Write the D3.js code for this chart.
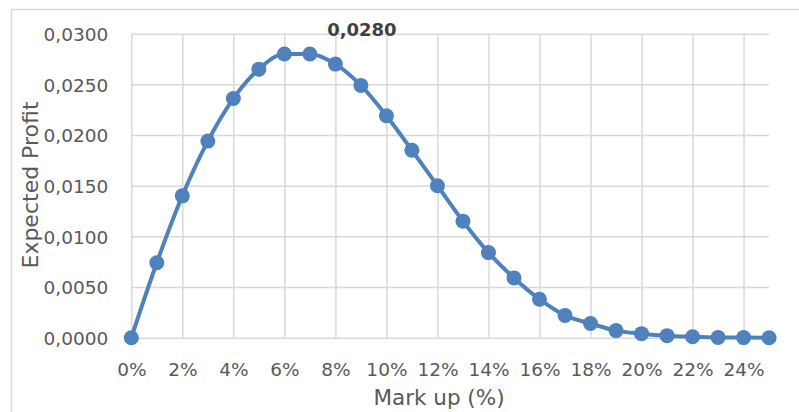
<!DOCTYPE html>
<html>
<head>
<meta charset="utf-8">
<script src="https://cdn.jsdelivr.net/npm/d3@7"></script>
<style>
  html, body { margin: 0; padding: 0; background: #fff; }
  svg { display: block; }
  text { font-family: "DejaVu Sans", sans-serif; }
</style>
</head>
<body>
<svg id="chart" width="799" height="412"></svg>
<script>
// Mark-up levels (%) and the expected profit at each level
const markup = [0, 1, 2, 3, 4, 5, 6, 7, 8, 9, 10, 11, 12, 13, 14, 15, 16, 17, 18, 19, 20, 21, 22, 23, 24, 25];
const profit = [0.0000, 0.0074, 0.0140, 0.0194, 0.0236, 0.0265, 0.0280, 0.0280, 0.0270, 0.0249,
                0.0219, 0.0185, 0.0150, 0.0115, 0.0084, 0.0059, 0.0038, 0.0022, 0.0014, 0.0007,
                0.0004, 0.0002, 0.0001, 0.00003, 0.00001, 0.0000];
const xTicks = [0, 2, 4, 6, 8, 10, 12, 14, 16, 18, 20, 22, 24];
const yTicks = [0, 0.005, 0.010, 0.015, 0.020, 0.025, 0.030];
const peakLabel = "0,0280";
const peakIndex = 7;
const xTitle = "Mark up (%)";
const yTitle = "Expected Profit";

const svg = d3.select("#chart");
const gridColor = "#d9d9d9";
const textColor = "#595959";
const lineColor = "#4f81bd";

const locale = d3.formatLocale({ decimal: ",", thousands: ".", grouping: [3], currency: ["", ""] });
const fmt = locale.format(".4f");

const x = d3.scaleLinear().domain([0, 25]).range([131.3, 769.1]);
const y = d3.scaleLinear().domain([0, 0.03]).range([337.7, 33.7]);

// chart frame
svg.append("path")
  .attr("d", "M11.5,412 V9.5 H799")
  .attr("fill", "none")
  .attr("stroke", gridColor)
  .attr("stroke-width", 1.5);

// horizontal gridlines + y labels
const yAxis = d3.axisLeft(y).tickValues(yTicks).tickFormat(fmt)
  .tickSize(-(x(25) - x(0))).tickPadding(23);
const gy = svg.append("g").attr("transform", `translate(${x(0)},0)`).call(yAxis);
gy.select(".domain").remove();
gy.selectAll(".tick line").attr("stroke", gridColor).attr("stroke-width", 1.5);
gy.selectAll(".tick text")
  .attr("fill", textColor).attr("font-size", 18.5)
  .attr("font-family", "DejaVu Sans, sans-serif").attr("dy", "0.36em");

// vertical gridlines + x labels
const xAxis = d3.axisBottom(x).tickValues(xTicks).tickFormat(d => d + "%")
  .tickSize(-(y(0) - y(0.03))).tickPadding(25);
const gx = svg.append("g").attr("transform", `translate(0,${y(0)})`).call(xAxis);
gx.select(".domain").remove();
gx.selectAll(".tick line").attr("stroke", gridColor).attr("stroke-width", 1.5);
gx.selectAll(".tick text")
  .attr("fill", textColor).attr("font-size", 18.5)
  .attr("font-family", "DejaVu Sans, sans-serif");

// axis titles
svg.append("text")
  .attr("x", 439).attr("y", 405)
  .attr("text-anchor", "middle")
  .attr("fill", textColor).attr("font-size", 21.5)
  .text(xTitle);

svg.append("text")
  .attr("transform", "translate(38,185) rotate(-90)")
  .attr("text-anchor", "middle")
  .attr("fill", textColor).attr("font-size", 22)
  .text(yTitle);

// series
const data = markup.map((m, i) => ({ m, p: profit[i] }));
const line = d3.line().x(d => x(d.m)).y(d => y(d.p)).curve(d3.curveMonotoneX);
svg.append("path")
  .datum(data)
  .attr("d", line)
  .attr("fill", "none")
  .attr("stroke", lineColor)
  .attr("stroke-width", 4);

svg.append("g").selectAll("circle")
  .data(data)
  .join("circle")
  .attr("cx", d => x(d.m))
  .attr("cy", d => y(d.p))
  .attr("r", 7.5)
  .attr("fill", lineColor);

// peak value label
svg.append("text")
  .attr("x", x(markup[peakIndex]) + 52)
  .attr("y", y(profit[peakIndex]) - 18)
  .attr("text-anchor", "middle")
  .attr("fill", "#404040")
  .attr("font-size", 18)
  .attr("font-weight", "bold")
  .text(peakLabel);
</script>
</body>
</html>
